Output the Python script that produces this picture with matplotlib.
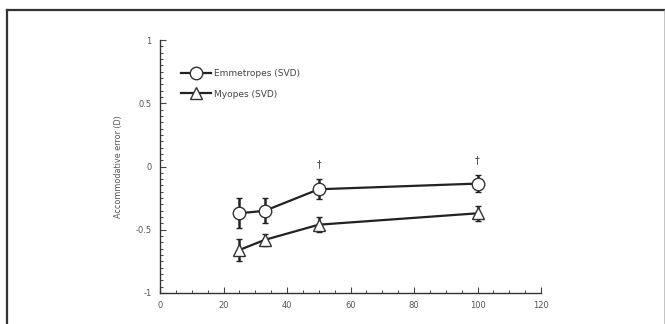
import matplotlib
matplotlib.use("Agg")
import matplotlib.pyplot as plt
from matplotlib.lines import Line2D
from matplotlib.ticker import MultipleLocator

# Data
x_vals = [25, 33, 50, 100]
emm_y = [-0.37, -0.35, -0.18, -0.135]
emm_err = [0.12, 0.10, 0.08, 0.065]
myo_y = [-0.66, -0.58, -0.46, -0.37]
myo_err = [0.09, 0.05, 0.06, 0.06]
dagger_x = [50, 100]
dagger_y = [0.02, 0.05]
legend_labels = ["Emmetropes (SVD)", "Myopes (SVD)"]
x_ticks = [0, 20, 40, 60, 80, 100, 120]
y_ticks = [-1, -0.5, 0, 0.5, 1]
y_tick_labels = ["-1", "-0.5", "0", "0.5", "1"]
y_label = "Accommodative error (D)"

fig = plt.figure(figsize=(6.65, 3.24), dpi=100)
W, H = 665, 324

# frame border
fig.add_artist(Line2D([7 / W, 7 / W], [0, 1 - 10 / H], transform=fig.transFigure,
                      color="#333333", lw=1.6))
fig.add_artist(Line2D([7 / W, 1], [1 - 10 / H, 1 - 10 / H], transform=fig.transFigure,
                      color="#333333", lw=1.6))
fig.add_artist(Line2D([664 / W, 664 / W], [0, 1 - 10 / H], transform=fig.transFigure,
                      color="#aaaaaa", lw=0.5))

ax = fig.add_axes([160 / W, 31 / H, 381 / W, 253 / H])
ax.set_xlim(0, 120)
ax.set_ylim(-1, 1)
ax.spines["top"].set_visible(False)
ax.spines["right"].set_visible(False)
for s in ("left", "bottom"):
    ax.spines[s].set_linewidth(1.0)
    ax.spines[s].set_color("#333333")

ax.set_xticks(x_ticks)
ax.set_xticklabels([str(t) for t in x_ticks])
ax.set_yticks(y_ticks)
ax.set_yticklabels(y_tick_labels)
ax.xaxis.set_minor_locator(MultipleLocator(5))
ax.yaxis.set_minor_locator(MultipleLocator(0.05))
ax.tick_params(which="major", direction="in", length=4, width=0.8, color="#444444",
               labelsize=6, labelcolor="#555555", pad=6)
ax.tick_params(which="minor", direction="in", length=2.5, width=0.7, color="#444444")
ax.set_ylabel(y_label, fontsize=5.8, color="#555555", labelpad=9)

ax.errorbar(x_vals, emm_y, yerr=emm_err, fmt="-o", color="#222222", lw=1.6,
            mfc="white", mec="#333333", ms=9, mew=1.0, ecolor="#222222",
            elinewidth=1.8, capsize=2.5, capthick=2.2, label=legend_labels[0], zorder=3)
ax.errorbar(x_vals, myo_y, yerr=myo_err, fmt="-^", color="#222222", lw=1.6,
            mfc="white", mec="#333333", ms=8, mew=1.0, ecolor="#222222",
            elinewidth=1.8, capsize=2.5, capthick=2.2, label=legend_labels[1], zorder=3)

for dx, dy in zip(dagger_x, dagger_y):
    ax.text(dx, dy, "\u2020", ha="center", va="center", fontsize=7, color="#444444")

h1 = Line2D([], [], color="#222222", lw=1.6, marker="o", mfc="white", mec="#333333", ms=9)
h2 = Line2D([], [], color="#222222", lw=1.6, marker="^", mfc="white", mec="#333333", ms=8)
ax.legend([h1, h2], legend_labels, loc="upper left", bbox_to_anchor=(0.035, 0.918),
          frameon=False, fontsize=6.5, handlelength=3.3, handletextpad=0.3,
          labelspacing=1.3, labelcolor="#444444")

fig.savefig("out.png", dpi=100, facecolor="white")
